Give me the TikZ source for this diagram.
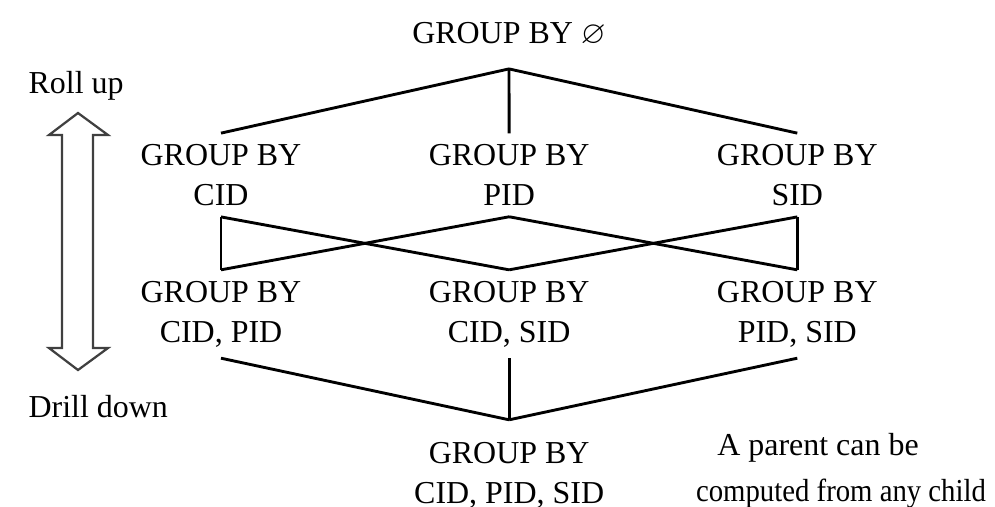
\documentclass[tikz,border=0pt]{standalone}
\usepackage{amssymb}
\usepackage{fontspec}
\setmainfont{Liberation Serif}
\begin{document}
\begin{tikzpicture}[x=0.011cm, y=-0.011cm, node distance=3.17cm,
        grp/.style={align=center, inner sep=0pt, outer ysep=3.5pt, font=\fontsize{10}{12.5}\selectfont},
        ends/.style={grp, outer ysep=7.2pt},
        link/.style={line width=0.9pt},
        side/.style={inner sep=0pt, anchor=base west, font=\fontsize{10}{12}\selectfont}]
        \useasboundingbox (0,0) rectangle (995,506);

        \node[ends] (top) at (509,34) {GROUP BY $\varnothing$};
        \node[grp] (c) at (221,175) {GROUP BY\\CID};
        \node[grp, right of=c] (p) {GROUP BY\\PID};
        \node[grp, right of=p] (s) {GROUP BY\\SID};
        \node[grp] (cp) at (221,314) {GROUP BY\\CID, PID};
        \node[grp, right of=cp] (cs) {GROUP BY\\CID, SID};
        \node[grp, right of=cs] (ps) {GROUP BY\\PID, SID};
        \node[ends, below of=cs, node distance=1.78cm] (cps) {GROUP BY\\CID, PID, SID};

        \foreach \from / \to in {top/c,top/p,top/s,c/cp,c/cs,p/cp,p/ps,s/cs,s/ps,cp/cps,cs/cps,ps/cps}
            \draw[link] (\from.south) -- (\to.north);

        \node[side] (roll) at (28,93) {Roll up};
        \node[side] (drill) at (28,417) {Drill down};
        \draw[line width=0.7pt, black!75] (78,113) -- (49,135) -- (62,135) -- (62,348) -- (49,348)
            -- (78,370) -- (108,348) -- (93,348) -- (93,135) -- (108,135) -- cycle;

        \node[side, anchor=base] (note) at (818,455) {A parent can be};
        \node[side, anchor=base] (note2) at (841,501) {\scalebox{0.9}[1]{computed from any child}};
\end{tikzpicture}
\end{document}
